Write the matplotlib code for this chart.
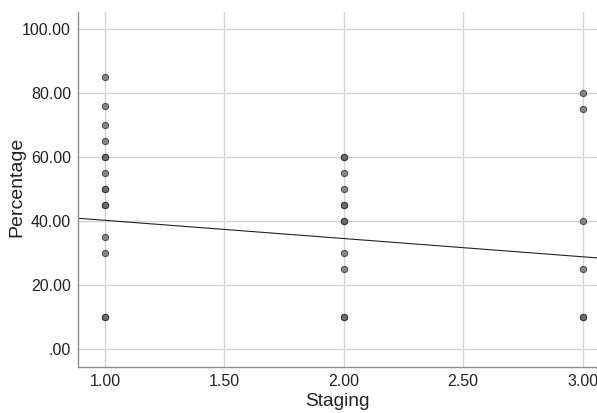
import matplotlib
matplotlib.use('AGG')
from matplotlib import pyplot as plt
from matplotlib.transforms import IdentityTransform
import numpy as np

# staging group and percentage for each case (repeated values overlap)
stage1 = [85, 76, 70, 65, 60, 60, 55, 50, 50, 45, 45, 35, 30, 10, 10]
stage2 = [60, 60, 55, 50, 45, 45, 40, 40, 30, 25, 10, 10]
stage3 = [80, 75, 40, 25, 10, 10]

# fit line as shown in the chart
fit_intercept = 46.0
fit_slope = -5.7

x_ticks = [1.0, 1.5, 2.0, 2.5, 3.0]
y_ticks = [0, 20, 40, 60, 80, 100]

plt.rcParams['font.family'] = ['Liberation Sans', 'DejaVu Sans']

fig = plt.figure(figsize=(5.97, 4.13), dpi=100, facecolor='white')
ax = fig.add_axes([78 / 597, 1 - 366.7 / 413, 1 - 78 / 597, (366.7 - 12) / 413])

xs = [1] * len(stage1) + [2] * len(stage2) + [3] * len(stage3)
ys = stage1 + stage2 + stage3
ax.scatter(xs, ys, s=20, facecolor='#666666', edgecolor='#2b2b2b', linewidths=0.8,
           alpha=0.75, zorder=3)

xlo, xhi = 0.887, 3.06
lx = np.array([xlo, xhi])
ax.plot(lx, fit_intercept + fit_slope * lx, color='#222222', lw=0.8, zorder=2)

ax.set_xlim(xlo, xhi)
ax.set_ylim(-5.45, 105.4)
ax.set_xticks(x_ticks)
ax.set_xticklabels(['%.2f' % v for v in x_ticks])
ax.set_yticks(y_ticks)
ax.set_yticklabels(['.00' if v == 0 else '%.2f' % v for v in y_ticks])

ax.grid(True, color='#d4d4d4', lw=1)
ax.set_axisbelow(True)
for sp in ['top', 'right']:
    ax.spines[sp].set_visible(False)
for sp in ['left', 'bottom']:
    ax.spines[sp].set_color('#8c8c8c')
    ax.spines[sp].set_linewidth(1)

ax.tick_params(length=0, labelsize=11.5, colors='#222222', pad=5)
ax.set_xlabel('Staging', fontsize=13.8, color='#222222')
ax.set_ylabel('Percentage', fontsize=14, color='#222222')
# label positions in pixels as in the original
ax.xaxis.set_label_coords(337, 413 - 402, transform=IdentityTransform())
ax.yaxis.set_label_coords(17, 413 - 187, transform=IdentityTransform())
ax.xaxis.label.set_va('center')
ax.yaxis.label.set_va('center')

plt.savefig('out.png', dpi=100)
